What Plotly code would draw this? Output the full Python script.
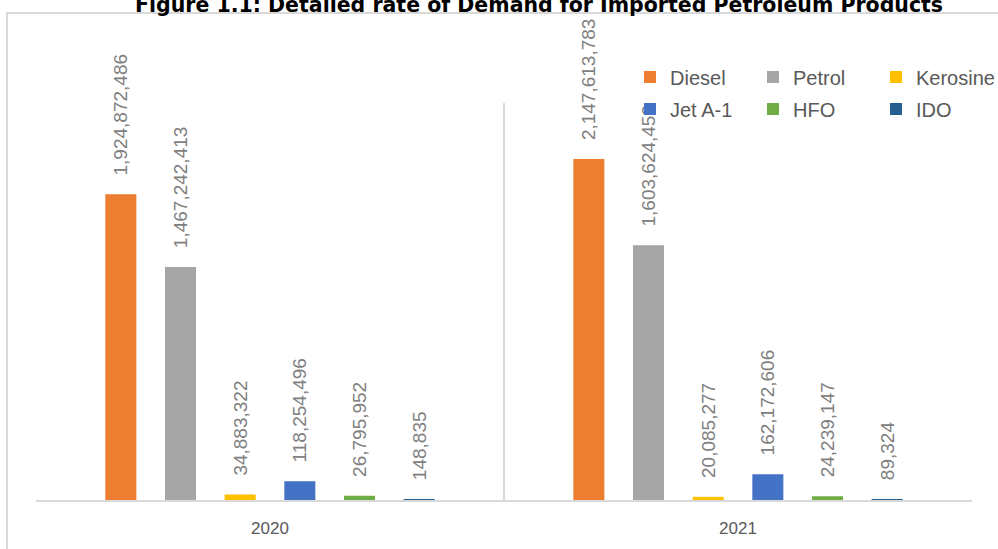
import plotly.graph_objects as go

years = ["2020", "2021"]
products = ["Diesel", "Petrol", "Kerosine", "Jet A-1", "HFO", "IDO"]
diesel = [1924872486, 2147613783]
petrol = [1467242413, 1603624453]
kerosine = [34883322, 20085277]
jet_a1 = [118254496, 162172606]
hfo = [26795952, 24239147]
ido = [148835, 89324]
colors = ["#ED7D31", "#A5A5A5", "#FFC000", "#4472C4", "#70AD47", "#255E91"]
series = [diesel, petrol, kerosine, jet_a1, hfo, ido]
title_text = "Figure 1.1: Detailed rate of Demand for Imported Petroleum Products"

W, H = 998, 549
ml, mr, mt, mb = 36, 26, 103, 49
pw = W - ml - mr
ph = H - mt - mb

fig = go.Figure()
for i, (name, vals, col) in enumerate(zip(products, series, colors)):
    fig.add_trace(go.Bar(
        x=years, y=vals, name=name,
        marker=dict(color=col, line=dict(width=0)),
        texttemplate="\u00a0\u00a0\u00a0%{y:,.0f}",
        textposition="outside", textangle=-90,
        textfont=dict(family="Liberation Sans", size=19, color="#808080"),
        constraintext="none", cliponaxis=False,
        legend="legend" if i < 3 else "legend2",
        hoverinfo="skip",
    ))

def px_x(p):
    return (p - ml) / pw

def px_y(p):
    return (H - mb - p) / ph

fig.update_layout(
    width=W, height=H,
    margin=dict(l=ml, r=mr, t=mt, b=mb, autoexpand=False),
    paper_bgcolor="white", plot_bgcolor="white",
    barmode="group", bargap=0.235, bargroupgap=0.48,
    xaxis=dict(type="category", range=[-0.5, 1.5], tickson="boundaries",
               showgrid=True, gridcolor="#d9d9d9", gridwidth=1.5,
               showline=True, linecolor="#d9d9d9", linewidth=1.5,
               ticks="", tickfont=dict(family="Liberation Sans", size=17, color="#595959"),
               ticklabelstandoff=12, zeroline=False, fixedrange=True),
    yaxis=dict(range=[0, 2.5e9], visible=False, showgrid=False, zeroline=False,
               fixedrange=True),
    legend=dict(orientation="h", x=px_x(630), xanchor="left", y=px_y(77), yanchor="middle",
                entrywidth=78, entrywidthmode="pixels", bgcolor="rgba(0,0,0,0)",
                font=dict(family="Liberation Sans", size=20, color="#595959"),
                traceorder="normal"),
    legend2=dict(orientation="h", x=px_x(630), xanchor="left", y=px_y(109), yanchor="middle",
                 entrywidth=78, entrywidthmode="pixels", bgcolor="rgba(0,0,0,0)",
                 font=dict(family="Liberation Sans", size=20, color="#595959"),
                 traceorder="normal"),
    annotations=[dict(text="<b>" + title_text + "</b>", xref="paper", yref="paper",
                      x=px_x(539), y=px_y(5), xanchor="center", yanchor="middle",
                      showarrow=False,
                      font=dict(family="DejaVu Sans", size=20.5, color="#000000"))],
    shapes=[dict(type="rect", xref="paper", yref="paper",
                 x0=px_x(7), x1=px_x(W + 30), y0=px_y(H + 30), y1=px_y(13),
                 line=dict(color="#d9d9d9", width=2), fillcolor="rgba(0,0,0,0)", layer="below")],
    showlegend=True,
)

fig.write_html("out.html", config={"displayModeBar": False},
               post_script="document.body.style.margin='0px';")
